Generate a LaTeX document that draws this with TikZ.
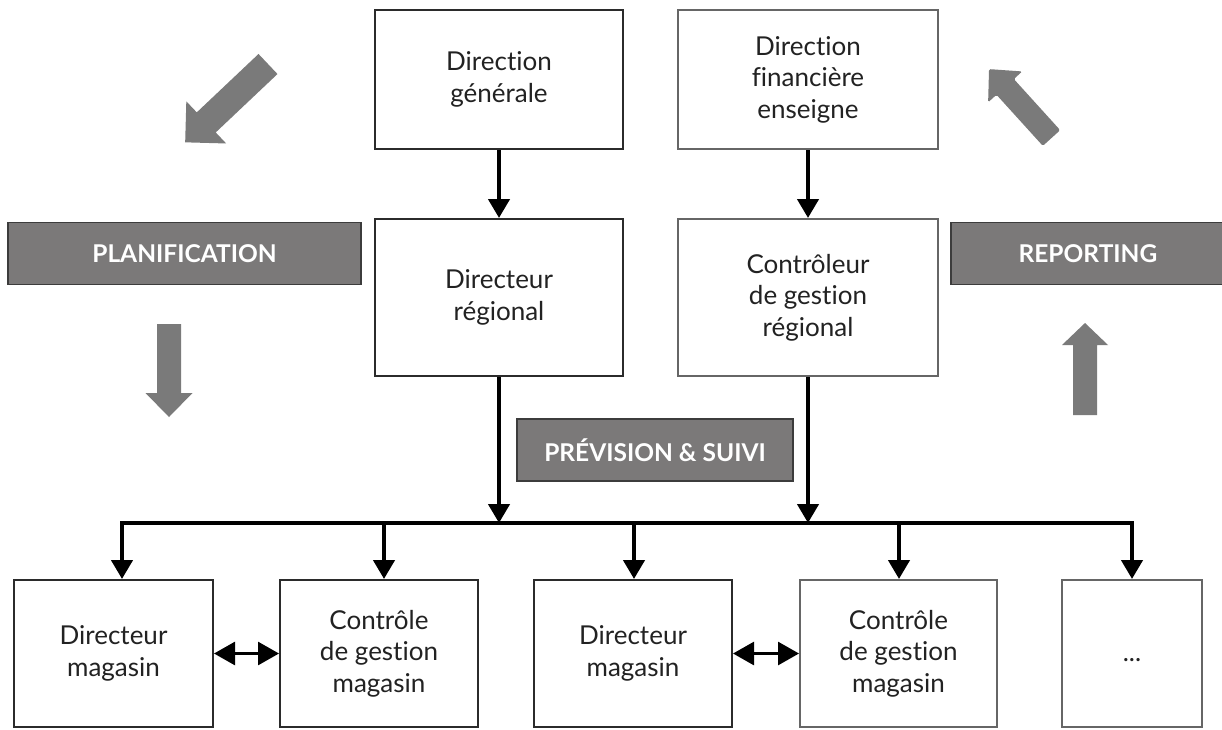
\documentclass[tikz,border=0pt]{standalone}
\usepackage{fontspec}
\setmainfont{Lato}[Ligatures={NoCommon,NoRare}]
\usetikzlibrary{arrows.meta}

\definecolor{ink}{HTML}{222222}
\definecolor{frame}{HTML}{2b2b2b}
\definecolor{framelt}{HTML}{666666}
\definecolor{band}{HTML}{7b7979}
\definecolor{bandedge}{HTML}{3c3c3c}
\definecolor{blockgray}{HTML}{7a7a7a}

\newcommand\bodyfont{\fontsize{26}{31.5}\selectfont}
\newcommand\bandfont{\bfseries\fontsize{24.5}{30}\selectfont}

% thick gray block arrow: x, y (tail centre), angle, length,
% shaft half-width, head length, head half-width
\newcommand\blockarrow[8][]{%
  \fill[blockgray,#1,shift={(#2,#3)},rotate=#4]
    (0,-#6) -- ({#5-#7},-#6) -- ({#5-#7},-#8) -- (#5,0)
    -- ({#5-#7},#8) -- ({#5-#7},#6) -- (0,#6) -- cycle;}

\tikzset{
  box/.style={draw=frame, line width=2pt, fill=white, align=center,
    text=ink, font=\bodyfont, inner sep=0pt},
  lightbox/.style={box, draw=framelt},
  banner/.style={draw=bandedge, line width=1.5pt, fill=band, text=white,
    font=\bandfont, inner sep=0pt, minimum height=62pt},
  link/.style={draw=black, line width=4.3pt, line join=miter},
  tip/.style={-{Triangle[length=19pt,width=21pt]}},
  pair/.style={draw=black, line width=2.8pt,
    {Triangle[length=21pt,width=23pt]}-{Triangle[length=21pt,width=23pt]}},
}

\begin{document}
\begin{tikzpicture}[x=1pt,y=-1pt]
\useasboundingbox (0,0) rectangle (1222,729);
\fill[white] (0,0) rectangle (1222,729);

% upper hierarchy
\node[box, minimum width=248pt, minimum height=139pt] (dg) at (499,79.5)
  {Direction\\générale};
\node[lightbox, minimum width=260pt, minimum height=139pt] (dfe) at (808,79.5)
  {Direction\\financière\\enseigne};
\node[box, minimum width=248pt, minimum height=157pt] (dr) at (499,297.5)
  {Directeur\\régional};
\node[lightbox, minimum width=260pt, minimum height=157pt] (cgr) at (808,297.5)
  {Contrôleur\\de gestion\\régional};

% stores
\node[box, minimum width=199pt, minimum height=147pt] (b1) at (113.5,653.5)
  {Directeur\\magasin};
\node[box, minimum width=198pt, minimum height=147pt] (b2) at (379,653.5)
  {Contrôle\\de gestion\\magasin};
\node[box, minimum width=198pt, minimum height=147pt] (b3) at (633,653.5)
  {Directeur\\magasin};
\node[lightbox, minimum width=197pt, minimum height=147pt] (b4) at (898.5,653.5)
  {Contrôle\\de gestion\\magasin};
\node[lightbox, minimum width=140pt, minimum height=147pt] (b5) at (1132,653.5)
  {\raisebox{-8pt}[0pt][0pt]{...}};

% process banners
\node[banner, minimum width=353pt] (plan) at (184.5,253.5) {PLANIFICATION};
\node[banner, minimum width=274pt] (rep) at (1088,253.5) {REPORTING};
\node[banner, minimum width=276pt] (prev) at (655,450) {PRÉVISION \& SUIVI};

% block arrows
\blockarrow{268}{64}{223.4}{114}{13.8}{29}{29}
\blockarrow{169}{324}{-90}{93}{12}{24}{23.5}
\blockarrow[rounded corners=1.5pt]{1051.5}{138}{132.2}{93}{11.7}{24}{23}
\blockarrow{1085}{415}{90}{92}{12}{22}{23}

% distribution bus
\coordinate (busL) at (122,523);
\coordinate (busR) at (1132,523);
\coordinate (bus2) at (384,523);
\coordinate (bus3) at (634,523);
\coordinate (bus4) at (899,523);

\draw[link, {Triangle[length=19pt,width=21pt]}-{Triangle[length=19pt,width=21pt]}]
  (busL |- b1.north) -- (busL) -- (busR) -- (busR |- b5.north);
\draw[link, tip] (bus2) -- (bus2 |- b2.north);
\draw[link, tip] (bus3) -- (bus3 |- b3.north);
\draw[link, tip] (bus4) -- (bus4 |- b4.north);

% vertical links
\draw[link, tip] (dg) -- (dr);
\draw[link, tip] (dfe) -- (cgr);
\draw[link, tip] (dr.south) -- (dr.south |- busL);
\draw[link, tip] (cgr.south) -- (cgr.south |- busL);

% store-level exchanges
\draw[pair] (b1.east) -- (b2.west);
\draw[pair] (b3.east) -- (b4.west);
\end{tikzpicture}
\end{document}
